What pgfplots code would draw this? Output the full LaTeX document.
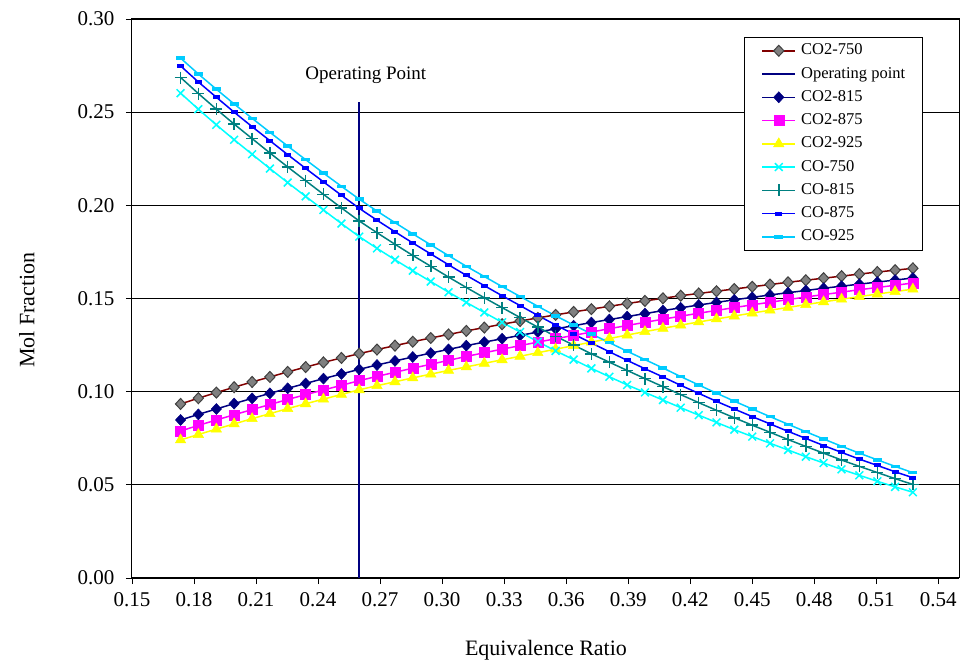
\documentclass[border=0pt]{standalone}
\usepackage{fontspec}
\setmainfont{Liberation Serif}
\usepackage{pgfplots}
\usepackage{pgfplotstable}
\pgfplotsset{compat=1.18}
\definecolor{opnavy}{RGB}{0,0,128}
\definecolor{dkred}{RGB}{128,0,0}
\definecolor{mgray}{RGB}{128,128,128}
\definecolor{dgray}{RGB}{64,64,64}
\definecolor{tealc}{RGB}{0,128,128}
\definecolor{skyb}{RGB}{0,204,255}
\definecolor{cyanc}{RGB}{0,255,255}
\definecolor{magc}{RGB}{255,0,255}
\definecolor{yelc}{RGB}{255,255,0}
\definecolor{bluec}{RGB}{0,0,255}

\pgfplotstableread{
x a750 a815 a875 a925
0.1735 0.0934 0.0848 0.0789 0.0741
0.1821 0.0965 0.0878 0.0819 0.0770
0.1908 0.0995 0.0907 0.0848 0.0799
0.1994 0.1024 0.0936 0.0876 0.0827
0.2081 0.1052 0.0964 0.0904 0.0855
0.2167 0.1079 0.0991 0.0931 0.0882
0.2253 0.1106 0.1018 0.0958 0.0909
0.2340 0.1132 0.1044 0.0984 0.0935
0.2426 0.1157 0.1070 0.1009 0.0960
0.2513 0.1181 0.1095 0.1034 0.0985
0.2599 0.1204 0.1120 0.1059 0.1010
0.2685 0.1226 0.1143 0.1082 0.1032
0.2772 0.1247 0.1165 0.1104 0.1053
0.2858 0.1268 0.1186 0.1126 0.1074
0.2945 0.1288 0.1207 0.1147 0.1094
0.3031 0.1307 0.1227 0.1168 0.1114
0.3117 0.1326 0.1247 0.1189 0.1133
0.3204 0.1344 0.1266 0.1209 0.1152
0.3290 0.1362 0.1284 0.1228 0.1171
0.3377 0.1379 0.1302 0.1247 0.1190
0.3463 0.1396 0.1320 0.1266 0.1209
0.3549 0.1412 0.1337 0.1284 0.1228
0.3636 0.1428 0.1354 0.1302 0.1247
0.3722 0.1443 0.1371 0.1320 0.1266
0.3809 0.1458 0.1387 0.1338 0.1285
0.3895 0.1473 0.1403 0.1355 0.1304
0.3981 0.1487 0.1419 0.1372 0.1322
0.4068 0.1501 0.1435 0.1389 0.1340
0.4154 0.1515 0.1450 0.1405 0.1357
0.4241 0.1527 0.1465 0.1421 0.1374
0.4327 0.1539 0.1479 0.1436 0.1390
0.4413 0.1551 0.1493 0.1451 0.1406
0.4500 0.1563 0.1506 0.1466 0.1422
0.4586 0.1575 0.1519 0.1480 0.1437
0.4673 0.1587 0.1531 0.1494 0.1452
0.4759 0.1598 0.1543 0.1508 0.1467
0.4845 0.1609 0.1555 0.1521 0.1482
0.4932 0.1620 0.1566 0.1534 0.1496
0.5018 0.1631 0.1577 0.1547 0.1510
0.5105 0.1642 0.1588 0.1559 0.1524
0.5191 0.1652 0.1599 0.1571 0.1537
0.5277 0.1662 0.1610 0.1583 0.1550
}\cotwo

\pgfplotstableread{
x b750 b815 b875 b925
0.1735 0.2602 0.2686 0.2748 0.2790
0.1821 0.2516 0.2600 0.2662 0.2705
0.1908 0.2432 0.2516 0.2580 0.2623
0.1994 0.2352 0.2436 0.2500 0.2544
0.2081 0.2274 0.2358 0.2422 0.2467
0.2167 0.2197 0.2281 0.2347 0.2392
0.2253 0.2122 0.2206 0.2272 0.2318
0.2340 0.2048 0.2132 0.2198 0.2245
0.2426 0.1975 0.2059 0.2126 0.2173
0.2513 0.1902 0.1986 0.2054 0.2102
0.2599 0.1832 0.1916 0.1984 0.2033
0.2685 0.1769 0.1853 0.1920 0.1969
0.2772 0.1708 0.1791 0.1858 0.1907
0.2858 0.1649 0.1731 0.1798 0.1847
0.2945 0.1591 0.1673 0.1739 0.1788
0.3031 0.1534 0.1615 0.1681 0.1730
0.3117 0.1479 0.1559 0.1624 0.1673
0.3204 0.1425 0.1504 0.1569 0.1618
0.3290 0.1372 0.1451 0.1515 0.1564
0.3377 0.1320 0.1398 0.1462 0.1511
0.3463 0.1268 0.1346 0.1409 0.1458
0.3549 0.1219 0.1297 0.1358 0.1407
0.3636 0.1172 0.1250 0.1309 0.1358
0.3722 0.1125 0.1203 0.1261 0.1310
0.3809 0.1080 0.1158 0.1214 0.1263
0.3895 0.1036 0.1114 0.1168 0.1217
0.3981 0.0996 0.1070 0.1123 0.1172
0.4068 0.0955 0.1027 0.1079 0.1127
0.4154 0.0914 0.0984 0.1034 0.1081
0.4241 0.0874 0.0941 0.0991 0.1036
0.4327 0.0835 0.0900 0.0948 0.0992
0.4413 0.0796 0.0860 0.0907 0.0949
0.4500 0.0759 0.0820 0.0866 0.0907
0.4586 0.0723 0.0782 0.0827 0.0866
0.4673 0.0687 0.0743 0.0787 0.0825
0.4759 0.0651 0.0706 0.0749 0.0785
0.4845 0.0617 0.0670 0.0711 0.0746
0.4932 0.0583 0.0633 0.0674 0.0707
0.5018 0.0551 0.0599 0.0638 0.0670
0.5105 0.0519 0.0566 0.0604 0.0634
0.5191 0.0489 0.0533 0.0570 0.0599
0.5277 0.0460 0.0502 0.0538 0.0565
}\coone

\begin{document}
\begin{tikzpicture}
\begin{axis}[
  scale only axis, width=827pt, height=559pt,
  xmin=0.15, xmax=0.55, ymin=0, ymax=0.30,
  xtick={0.15,0.18,0.21,0.24,0.27,0.30,0.33,0.36,0.39,0.42,0.45,0.48,0.51,0.54},
  ytick={0,0.05,0.10,0.15,0.20,0.25,0.30},
  xtick pos=bottom, ytick pos=left,
  tick align=outside, major tick length=6pt,
  tick style={black, line width=0.8pt},
  axis line style={black, line width=1pt},
  ymajorgrids, grid style={black, line width=0.9pt},
  /pgf/number format/assume math mode=true,
  xticklabel style={/pgf/number format/.cd, fixed, fixed zerofill, precision=2, /tikz/.cd,
     font=\fontsize{21}{21}\selectfont, yshift=-5pt},
  yticklabel style={/pgf/number format/.cd, fixed, fixed zerofill, precision=2, /tikz/.cd,
     font=\fontsize{21}{21}\selectfont, xshift=-8pt},
  scaled ticks=false,
  xlabel={Equivalence Ratio}, ylabel={Mol Fraction},
  xlabel style={font=\fontsize{22}{22}\selectfont, at={(axis description cs:0.5006,-0.129)}, anchor=center},
  ylabel style={font=\fontsize{22}{22}\selectfont, at={(axis description cs:-0.127,0.479)}, anchor=center},
  legend style={at={(rel axis cs:0.740,0.968)}, anchor=north west, draw=black, line width=0.8pt, fill=white,
     font=\fontsize{16.5}{16.5}\selectfont, inner xsep=17pt, inner ysep=5.5pt, row sep=7.25pt, column sep=5pt,
     nodes={inner sep=0pt, text height=12pt, text depth=4pt}},
  legend cell align=left,
  legend image code/.code={\draw[mark repeat=2,mark phase=2,#1] plot coordinates {(0pt,0pt) (16.5pt,0pt) (33pt,0pt)};},
]
\coordinate (O) at (rel axis cs:0,0);
\addplot[dkred, line width=1.5pt, mark=diamond*, mark size=5.5pt, mark options={solid, fill=mgray, draw=dgray, line width=1pt, xscale=1.25}] table[x=x,y=a750] {\cotwo};
\addlegendentry{CO2-750}
\addplot[opnavy, line width=1.8pt] coordinates {(0.2599,0) (0.2599,0.2555)};
\addlegendentry{Operating point}
\addplot[opnavy, line width=1.5pt, mark=diamond*, mark size=5.5pt, mark options={solid, fill=opnavy, draw=opnavy, line width=0.5pt, xscale=1.25}] table[x=x,y=a815] {\cotwo};
\addlegendentry{CO2-815}
\addplot[magc, line width=1.5pt, mark=square*, mark size=5pt, mark options={solid, fill=magc, draw=magc, line width=0.5pt}] table[x=x,y=a875] {\cotwo};
\addlegendentry{CO2-875}
\addplot[yelc, line width=1.5pt, mark=triangle*, mark size=6pt, mark options={solid, fill=yelc, draw=yelc, line width=0.5pt}] table[x=x,y=a925] {\cotwo};
\addlegendentry{CO2-925}
\addplot[cyanc, line width=1.5pt, mark=x, mark size=5.5pt, mark options={solid, draw=cyanc, line width=1.5pt}] table[x=x,y=b750] {\coone};
\addlegendentry{CO-750}
\addplot[tealc, line width=1.5pt, mark=+, mark size=6pt, mark options={solid, draw=tealc, line width=1.5pt}] table[x=x,y=b815] {\coone};
\addlegendentry{CO-815}
\addplot[bluec, line width=1.5pt, mark=-, mark size=3.5pt, mark options={solid, draw=bluec, line width=4pt}] table[x=x,y=b875] {\coone};
\addlegendentry{CO-875}
\addplot[skyb, line width=1.5pt, mark=-, mark size=4.5pt, mark options={solid, draw=skyb, line width=3.5pt}] table[x=x,y=b925] {\coone};
\addlegendentry{CO-925}
\node[font=\fontsize{19}{19}\selectfont, anchor=center] at (axis cs:0.2631,0.2700) {Operating Point};
\end{axis}
\pgfresetboundingbox
\path (O) ++(-132pt,-91pt) rectangle ++(964pt,669pt);
\end{tikzpicture}
\end{document}
